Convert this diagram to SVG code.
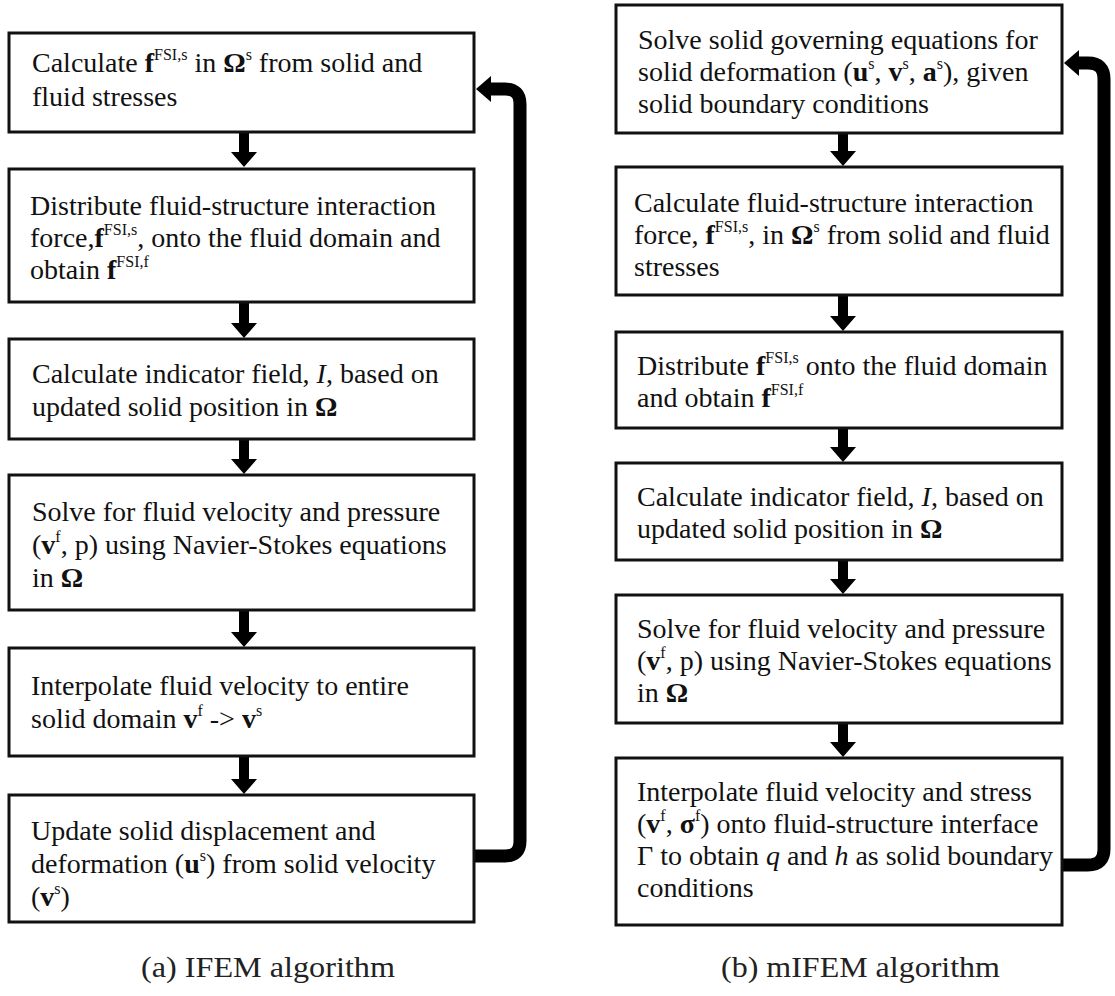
<svg xmlns="http://www.w3.org/2000/svg" width="1115" height="996" viewBox="0 0 1115 996">
<style>
.box{fill:#fff;stroke:#111;stroke-width:3}
.t{font-family:"Liberation Serif","Times New Roman",serif;font-size:28px;fill:#111}
.b{font-weight:bold}
.i{font-style:italic}
.s{font-size:16px}
.arr{fill:#000}
.fb{fill:none;stroke:#000;stroke-width:13}
.cap{font-family:"Liberation Serif",serif;font-size:30px;fill:#222}
</style>
<rect width="1115" height="996" fill="#fff"/>

<g id="connectors">
<path class="arr" d="M239,133 H249 V152 H257 L244,167 L231,152 H239 Z"/>
<path class="arr" d="M239,303 H249 V323 H257 L244,338 L231,323 H239 Z"/>
<path class="arr" d="M239,440 H249 V459 H257 L244,474 L231,459 H239 Z"/>
<path class="arr" d="M239,611 H249 V632 H257 L244,647 L231,632 H239 Z"/>
<path class="arr" d="M239,757 H249 V779 H257 L244,794 L231,779 H239 Z"/>
<path class="fb" d="M474,856 H505 Q520,856 520,841 V104 Q520,89 505,89 H489"/>
<path class="arr" d="M476,89 L491,76 L491,102 Z"/>

<path class="arr" d="M838,134 H848 V151 H856 L843,166 L830,151 H838 Z"/>
<path class="arr" d="M838,296 H848 V316 H856 L843,331 L830,316 H838 Z"/>
<path class="arr" d="M838,429 H848 V447 H856 L843,462 L830,447 H838 Z"/>
<path class="arr" d="M838,561 H848 V579 H856 L843,594 L830,579 H838 Z"/>
<path class="arr" d="M838,724 H848 V742 H856 L843,757 L830,742 H838 Z"/>
<path class="fb" d="M1062,865 H1088 Q1104,865 1104,849 V79 Q1104,63 1088,63 H1077"/>
<path class="arr" d="M1064,63 L1079,50 L1079,76 Z"/>
</g>

<g id="L1">
<rect class="box" x="9" y="33" width="465" height="99"/>
<text class="t" x="32" y="72">Calculate <tspan class="b">f</tspan><tspan class="s" dy="-12">FSI,s</tspan><tspan dy="12"> in </tspan><tspan class="b">Ω</tspan><tspan class="s" dy="-12">s</tspan><tspan dy="12"> from solid and</tspan></text>
<text class="t" x="32" y="106">fluid stresses</text>
</g>
<g id="L2">
<rect class="box" x="9" y="169" width="465" height="133"/>
<text class="t" x="30" y="215">Distribute fluid-structure interaction</text>
<text class="t" x="30" y="247">force,<tspan class="b">f</tspan><tspan class="s" dy="-12">FSI,s</tspan><tspan dy="12">, onto the fluid domain and</tspan></text>
<text class="t" x="30" y="279">obtain <tspan class="b">f</tspan><tspan class="s" dy="-12">FSI,f</tspan></text>
</g>
<g id="L3">
<rect class="box" x="9" y="339" width="465" height="100"/>
<text class="t" x="32" y="383">Calculate indicator field, <tspan class="i">I</tspan>, based on</text>
<text class="t" x="32" y="416">updated solid position in <tspan class="b">Ω</tspan></text>
</g>
<g id="L4">
<rect class="box" x="9" y="475" width="465" height="135"/>
<text class="t" x="32" y="521">Solve for fluid velocity and pressure</text>
<text class="t" x="32" y="554">(<tspan class="b">v</tspan><tspan class="s" dy="-12">f</tspan><tspan dy="12">, p) using Navier-Stokes equations</tspan></text>
<text class="t" x="32" y="587">in <tspan class="b">Ω</tspan></text>
</g>
<g id="L5">
<rect class="box" x="9" y="648" width="465" height="108"/>
<text class="t" x="31" y="695">Interpolate fluid velocity to entire</text>
<text class="t" x="31" y="728">solid domain <tspan class="b">v</tspan><tspan class="s" dy="-12">f</tspan><tspan dy="12"> -&gt; </tspan><tspan class="b">v</tspan><tspan class="s" dy="-12">s</tspan></text>
</g>
<g id="L6">
<rect class="box" x="9" y="795" width="465" height="127"/>
<text class="t" x="31" y="840">Update solid displacement and</text>
<text class="t" x="31" y="873">deformation (<tspan class="b">u</tspan><tspan class="s" dy="-12">s</tspan><tspan dy="12">) from solid velocity</tspan></text>
<text class="t" x="31" y="906">(<tspan class="b">v</tspan><tspan class="s" dy="-12">s</tspan><tspan dy="12">)</tspan></text>
</g>

<g id="R1">
<rect class="box" x="616" y="5" width="446" height="128"/>
<text class="t" x="638" y="49">Solve solid governing equations for</text>
<text class="t" x="638" y="81">solid deformation (<tspan class="b">u</tspan><tspan class="s" dy="-12">s</tspan><tspan dy="12">, </tspan><tspan class="b">v</tspan><tspan class="s" dy="-12">s</tspan><tspan dy="12">, </tspan><tspan class="b">a</tspan><tspan class="s" dy="-12">s</tspan><tspan dy="12">), given</tspan></text>
<text class="t" x="638" y="113">solid boundary conditions</text>
</g>
<g id="R2">
<rect class="box" x="616" y="167" width="446" height="128"/>
<text class="t" x="634" y="212">Calculate fluid-structure interaction</text>
<text class="t" x="634" y="244">force, <tspan class="b">f</tspan><tspan class="s" dy="-12">FSI,s</tspan><tspan dy="12">, in </tspan><tspan class="b">Ω</tspan><tspan class="s" dy="-12">s</tspan><tspan dy="12"> from solid and fluid</tspan></text>
<text class="t" x="634" y="276">stresses</text>
</g>
<g id="R3">
<rect class="box" x="616" y="332" width="446" height="96"/>
<text class="t" x="637" y="375">Distribute <tspan class="b">f</tspan><tspan class="s" dy="-12">FSI,s</tspan><tspan dy="12"> onto the fluid domain</tspan></text>
<text class="t" x="637" y="407">and obtain <tspan class="b">f</tspan><tspan class="s" dy="-12">FSI,f</tspan></text>
</g>
<g id="R4">
<rect class="box" x="616" y="463" width="446" height="97"/>
<text class="t" x="637" y="506">Calculate indicator field, <tspan class="i">I</tspan>, based on</text>
<text class="t" x="637" y="538">updated solid position in <tspan class="b">Ω</tspan></text>
</g>
<g id="R5">
<rect class="box" x="616" y="595" width="446" height="128"/>
<text class="t" x="637" y="638">Solve for fluid velocity and pressure</text>
<text class="t" x="637" y="670">(<tspan class="b">v</tspan><tspan class="s" dy="-12">f</tspan><tspan dy="12">, p) using Navier-Stokes equations</tspan></text>
<text class="t" x="637" y="702">in <tspan class="b">Ω</tspan></text>
</g>
<g id="R6">
<rect class="box" x="616" y="758" width="446" height="167"/>
<text class="t" x="637" y="801">Interpolate fluid velocity and stress</text>
<text class="t" x="637" y="833">(<tspan class="b">v</tspan><tspan class="s" dy="-12">f</tspan><tspan dy="12">, </tspan><tspan class="b">σ</tspan><tspan class="s" dy="-12">f</tspan><tspan dy="12">) onto fluid-structure interface</tspan></text>
<text class="t" x="637" y="865">Γ to obtain <tspan class="i">q</tspan> and <tspan class="i">h</tspan> as solid boundary</text>
<text class="t" x="637" y="897">conditions</text>
</g>

<g id="captions">
<text class="cap" x="141" y="977" textLength="254" lengthAdjust="spacingAndGlyphs">(a) IFEM algorithm</text>
<text class="cap" x="721" y="977" textLength="279" lengthAdjust="spacingAndGlyphs">(b) mIFEM algorithm</text>
</g>
</svg>
